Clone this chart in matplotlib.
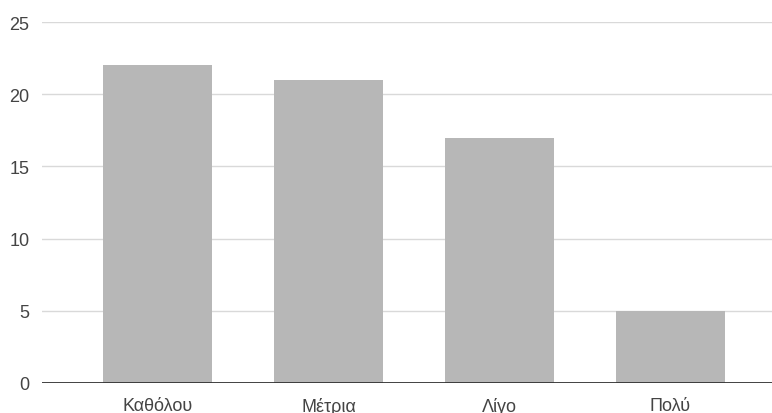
import matplotlib
matplotlib.use("Agg")
import matplotlib.pyplot as plt

categories = ["Καθόλου", "Μέτρια", "Λίγο", "Πολύ"]
values = [22, 21, 17, 5]
y_ticks = [0, 5, 10, 15, 20, 25]

plt.rcParams["font.family"] = ["Liberation Sans", "DejaVu Sans"]

fig = plt.figure(figsize=(7.72, 4.14), dpi=100)
ax = fig.add_axes([42 / 772, 30 / 414, 1 - 42 / 772, (384 - 23) / 414])

x = list(range(len(categories)))
ax.bar(x, values, width=0.64, color="#b7b7b7", zorder=2)

ax.set_ylim(0, 25)
ax.set_xlim(-0.676, 3.594)
ax.set_yticks(y_ticks)
ax.set_yticklabels([str(t) for t in y_ticks])
ax.set_xticks(x)
ax.set_xticklabels(categories)

ax.grid(axis="y", color="#d9d9d9", linewidth=1, zorder=0)
ax.axhline(0, color="#333333", linewidth=1.3, zorder=3)

for s in ax.spines.values():
    s.set_visible(False)
ax.tick_params(axis="both", length=0, labelsize=13, labelcolor="#444444")
ax.tick_params(axis="y", pad=9)
ax.tick_params(axis="x", pad=10)

fig.savefig("out.png", dpi=100)
